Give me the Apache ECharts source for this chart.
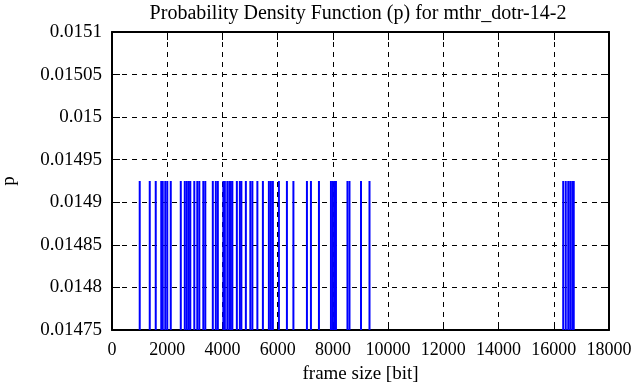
<!DOCTYPE html>
<html>
<head>
<meta charset="utf-8">
<script src="https://cdn.jsdelivr.net/npm/echarts@6/dist/echarts.min.js"></script>
<style>html,body{margin:0;padding:0;background:#fff;}#c{width:636px;height:387px;}</style>
</head>
<body>
<div id="c"></div>
<script>
var frameSizes = [1004, 1367, 1584, 1784, 1838, 1929, 2002, 2128, 2491, 2636, 2709, 2781, 2836,
  2981, 3089, 3162, 3307, 3379, 3651, 3760, 3833, 4032, 4087, 4177, 4250, 4304, 4359, 4522,
  4631, 4685, 4848, 5011, 5084, 5265, 5465, 5682, 5755, 5827, 6045, 6335, 6570, 7060, 7205,
  7495, 7930, 8002, 8075, 8111, 8528, 8601, 9018, 9326, 16342, 16433, 16524, 16596, 16669, 16723];
var probability = frameSizes.map(function(){ return 0.014925; });
var xTicks = [0, 2000, 4000, 6000, 8000, 10000, 12000, 14000, 16000, 18000];
var yTicks = [0.01475, 0.0148, 0.01485, 0.0149, 0.01495, 0.015, 0.01505, 0.0151];

var FONT = 'Liberation Serif';
var data = frameSizes.map(function(x, i){ return [x, probability[i]]; });
var yMin = yTicks[0], yMax = yTicks[yTicks.length-1];
var xMin = xTicks[0], xMax = xTicks[xTicks.length-1];

var chart = echarts.init(document.getElementById('c'), null, {renderer:'canvas'});
function common(){
  return {
    axisLine:{show:true, onZero:false, lineStyle:{color:'#000', width:2}},
    axisTick:{show:true, inside:true, length:8, lineStyle:{color:'#000', width:1}}
  };
}
chart.setOption({
  animation:false,
  backgroundColor:'#fff',
  title:{text:'Probability Density Function (p) for mthr_dotr-14-2', left:353, textAlign:'center', top:-1,
    textStyle:{fontFamily:FONT, fontSize:20, fontWeight:'normal', color:'#000'}},
  grid:{left:112, right:27, top:32, bottom:57, containLabel:false, outerBoundsMode:'none'},
  xAxis:[
    Object.assign({type:'value', min:xMin, max:xMax, interval:2000, position:'bottom',
      name:'frame size [bit]', nameLocation:'middle', nameGap:35,
      nameTextStyle:{fontFamily:FONT, fontSize:19, color:'#000'},
      axisLabel:{fontFamily:FONT, fontSize:18, color:'#000', margin:11,
        formatter:function(v){ return String(Math.round(v)); }},
      splitLine:{show:true, lineStyle:{color:'#000', type:[5,5], width:1}}}, common()),
    Object.assign({type:'value', min:xMin, max:xMax, interval:2000, position:'top',
      axisLabel:{show:false}, splitLine:{show:false}}, common())
  ],
  yAxis:[
    Object.assign({type:'value', min:yMin, max:yMax, interval:0.00005, position:'left',
      name:'p', nameLocation:'middle', nameGap:93, nameRotate:90,
      nameTextStyle:{fontFamily:FONT, fontSize:19, color:'#000'},
      axisLabel:{fontFamily:FONT, fontSize:19, color:'#000', margin:10,
        formatter:function(v){ return String(parseFloat(v.toFixed(6))); }},
      splitLine:{show:true, lineStyle:{color:'#000', type:[5,5], width:1}}}, common()),
    Object.assign({type:'value', min:yMin, max:yMax, interval:0.00005, position:'right',
      axisLabel:{show:false}, splitLine:{show:false}}, common())
  ],
  series:[{
    type:'custom',
    xAxisIndex:0, yAxisIndex:0,
    data:data,
    clip:true,
    renderItem:function(params, api){
      var top = api.coord([api.value(0), api.value(1)]);
      var bot = api.coord([api.value(0), yMin]);
      return {type:'line', shape:{x1:top[0], y1:top[1], x2:bot[0], y2:bot[1]},
        style:{stroke:'#0000ff', lineWidth:2}};
    }
  }]
});
</script>
</body>
</html>
